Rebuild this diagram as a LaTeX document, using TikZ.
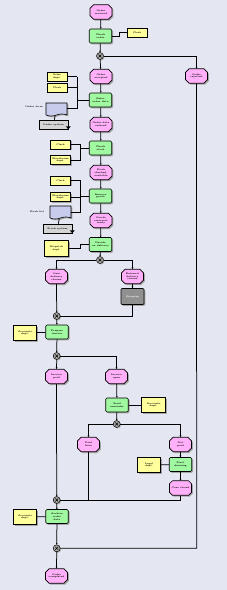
\documentclass[tikz,border=0pt]{standalone}
\usetikzlibrary{shapes.misc,shapes.symbols,shadows,arrows.meta}
\definecolor{bg}{HTML}{E4E6F2}
\definecolor{evc}{HTML}{FFB0F8}
\definecolor{fnc}{HTML}{A0F8A0}
\definecolor{ntc}{HTML}{FFFF9C}
\definecolor{dcc}{HTML}{C8CCEC}
\definecolor{syc}{HTML}{D4D4D4}
\definecolor{pic}{HTML}{909090}
\tikzset{
  base/.style={draw=black,line width=0.6pt,inner sep=0.3pt,align=center,
    font=\fontsize{2.3}{2.7}\selectfont\bfseries,
    drop shadow={shadow xshift=1.3pt,shadow yshift=-1.3pt,fill=black!35,opacity=1}},
  ev/.style={base,chamfered rectangle,chamfered rectangle xsep=1.8pt,chamfered rectangle ysep=1.8pt,
    fill=evc,minimum width=22pt,minimum height=14.5pt},
  fn/.style={base,rectangle,rounded corners=1.2pt,fill=fnc,minimum width=22.5pt,minimum height=14pt},
  nt/.style={base,rectangle,fill=ntc,minimum width=20pt,minimum height=9pt},
  ntb/.style={base,rectangle,fill=ntc,minimum width=23.5pt,minimum height=15.5pt},
  dc/.style={base,tape,tape bend top=none,tape bend height=2pt,fill=dcc,minimum width=21pt,minimum height=13pt},
  sy/.style={base,rectangle,fill=syc,minimum width=29pt,minimum height=9pt},
  pi/.style={base,rectangle,rounded corners=1pt,fill=pic,minimum width=23pt,minimum height=16pt},
  xr/.style={draw=black,line width=0.5pt,circle,fill=black!35,minimum size=7pt,inner sep=0pt,
    path picture={\draw[line width=0.5pt] (path picture bounding box.south west) ++(2pt,2pt) -- ++(3pt,3pt)
      (path picture bounding box.north west) ++(2pt,-2pt) -- ++(3pt,-3pt);},
    drop shadow={shadow xshift=1pt,shadow yshift=-1pt,fill=black!30,opacity=1}},
  lbl/.style={font=\fontsize{2.3}{2.7}\selectfont\bfseries,inner sep=0pt},
  ln/.style={line width=0.75pt,draw=black},
  ar/.style={ln,-{Stealth[length=1.6pt,width=1.8pt]}}
}
\begin{document}
\begin{tikzpicture}[x=1pt,y=-1pt]
\fill[bg] (0,0) rectangle (227,590);
\useasboundingbox (0,0) rectangle (227,590);
% nodes
\node[ev] (E1) at (101,12) {Order\\received};
\node[fn] (F1) at (100.5,36) {Check\\order};
\node[nt] (N1) at (137,32.5) {Clerk};
\node[xr] (X1) at (100,56) {};
\node[ev] (E2) at (101,76.5) {Order\\accepted};
\node[ev] (E3) at (196.5,76) {Order\\rejected};
\node[nt] (N2) at (57,76.5) {Sales\\dept.};
\node[nt] (N3) at (57,87.5) {Clerk};
\node[fn] (F2) at (100.5,100) {Enter\\order data};
\node[dc] (D1) at (56.5,108.5) {};
\node[lbl] at (34,107) {Order form};
\node[sy] (S1) at (53.5,124.5) {Order system};
\node[ev] (E4) at (101,124.5) {Order data\\entered};
\node[nt] (N4) at (60.5,144.5) {Clerk};
\node[fn] (F3) at (100.5,148) {Check\\stock};
\node[nt] (N5) at (60.5,160) {Warehouse\\dept.};
\node[ev] (E5) at (101,172.5) {Stock\\checked,\\available};
\node[nt] (N6) at (60.5,180.5) {Clerk};
\node[nt] (N7) at (60.5,197) {Warehouse\\dept.};
\node[fn] (F4) at (100.5,196) {Reserve\\goods};
\node[dc] (D2) at (60.5,211.5) {};
\node[lbl] at (37,212) {Stock list};
\node[sy] (S2) at (57.5,228.5) {Stock system};
\node[ev] (E6) at (101,220.5) {Goods\\reserved,\\ready};
\node[fn] (F5) at (100.5,244.5) {Decide\\on delivery};
\node[ntb] (N8) at (56.5,248.5) {Dispatch\\dept.};
\node[xr] (X2) at (100,260) {};
\node[ev] (E7) at (56.5,276.5) {Own\\delivery\\chosen};
\node[ev] (E8) at (132.5,276.5) {External\\delivery\\chosen};
\node[pi] (P1) at (132.5,296.5) {\textcolor{white}{Shipping}};
\node[xr] (X3) at (56.7,316) {};
\node[fn] (F6) at (57,332) {Prepare\\invoice};
\node[ntb] (N9) at (25,333) {Accounts\\dept.};
\node[xr] (X4) at (56.7,356) {};
\node[ev] (E9) at (56.5,376.5) {Invoice\\paid};
\node[ev] (E10) at (116.5,376.5) {Invoice\\open};
\node[fn] (F7) at (117,405) {Send\\reminder};
\node[ntb] (N10) at (153.5,405) {Accounts\\dept.};
\node[xr] (X5) at (116.7,424) {};
\node[ev] (E11) at (88.5,444.5) {Paid\\later};
\node[ev] (E12) at (180.5,444.5) {Not\\paid};
\node[fn] (F8) at (180.5,464.5) {Start\\dunning};
\node[ntb] (N11) at (149,465) {Legal\\dept.};
\node[ev] (E13) at (180.5,488) {Case closed};
\node[xr] (X6) at (56.7,500) {};
\node[fn] (F9) at (57,516.5) {Archive\\order\\data};
\node[ntb] (N12) at (25,517) {Accounts\\dept.};
\node[xr] (X7) at (56.7,548.3) {};
\node[ev] (E14) at (56.5,576) {Order\\completed};
% small triangles on system boxes
\fill (S1.south east) ++(0,0) -- ++(2.5pt,3pt) -- ++(-5pt,0) -- cycle;
\fill (S2.south east) -- ++(2.5pt,3pt) -- ++(-5pt,0) -- cycle;
% connectors
\draw[ar] (E1) -- (F1);
\draw[ar] (F1) -- (X1);
\draw[ln] (F1.east) -- (119,36) -- (119,32.5) -- (N1.west);
\draw[ar] (X1) -- (E2);
\draw[ar] (X1) -| (E3);
\draw[ln] (N2.east) -- (77,76.5);
\draw[ln] (N3.east) -- (77,87.5);
\draw[ln] (D1.east) -- (77,108.5);
\draw[ln] (77,76.5) -- (77,108.5);
\draw[ln] (77,100) -- (F2.west);
\draw[ar] (E2) -- (F2);
\draw[ln] (D1) -- (S1);
\draw[ar] (F2) -- (E4);
\draw[ar] (E4) -- (F3);
\draw[ln] (N4.east) -- (80,144.5) -- (80,160) -- (N5.east);
\draw[ln] (80,148) -- (F3.west);
\draw[ar] (F3) -- (E5);
\draw[ar] (E5) -- (F4);
\draw[ln] (N6.east) -- (80,180.5) -- (80,212.5) -- (71,212.5);
\draw[ln] (N7.east) -- (80,197);
\draw[ln] (80,196) -- (F4.west);
\draw[ln] (D2) -- (S2);
\draw[ar] (F4) -- (E6);
\draw[ar] (E6) -- (F5);
\draw[ln] (N8.east) -- (80,248.5) -- (80,244.5) -- (F5.west);
\draw[ar] (F5) -- (X2);
\draw[ar] (X2) -| (E7);
\draw[ar] (X2) -| (E8);
\draw[ar] (E8) -- (P1);
\draw[ln] (P1.south) -- (132.5,316) -- (X3);
\draw[ar] (E7) -- (X3);
\draw[ar] (X3) -- (F6);
\draw[ln] (N9) -- (F6);
\draw[ar] (F6) -- (X4);
\draw[ar] (X4) -- (E9);
\draw[ar] (X4) -| (E10);
\draw[ar] (E10) -- (F7);
\draw[ln] (F7) -- (N10);
\draw[ar] (F7) -- (X5);
\draw[ar] (X5) -| (E11);
\draw[ar] (X5) -| (E12);
\draw[ar] (E12) -- (F8);
\draw[ln] (N11) -- (F8);
\draw[ar] (F8) -- (E13);
\draw[ln] (E13.south) -- (180.5,500) -- (X6);
\draw[ln] (E11.south) -- (88.5,500);
\draw[ar] (E9) -- (X6);
\draw[ar] (X6) -- (F9);
\draw[ln] (N12) -- (F9);
\draw[ar] (F9) -- (X7);
\draw[ln] (E3.south) -- (196.7,548.3) -- (X7);
\draw[ar] (X7) -- (E14);
\end{tikzpicture}
\end{document}
